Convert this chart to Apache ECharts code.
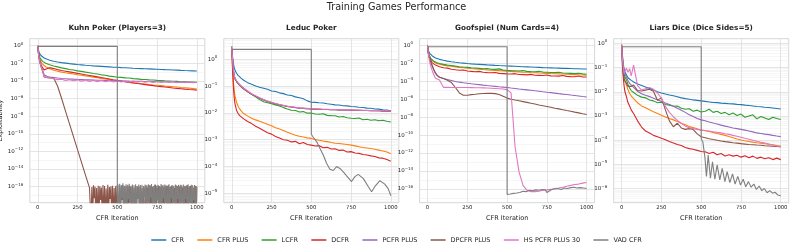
<!DOCTYPE html>
<html><head><meta charset="utf-8">
<script src="https://cdn.jsdelivr.net/npm/echarts@6/dist/echarts.min.js"></script>
<style>html,body{margin:0;padding:0;background:#fff}#c{width:793px;height:251px}</style>
</head><body><div id="c"></div><script>
// ---------- DATA ----------
const seriesNames = ['CFR','CFR PLUS','LCFR','DCFR','PCFR PLUS','DPCFR PLUS','HS PCFR PLUS 30','VAD CFR'];
const seriesColors = ['#1f77b4','#ff7f0e','#2ca02c','#d62728','#9467bd','#8c564b','#e377c2','#7f7f7f'];
const gameTitles = ['Kuhn Poker (Players=3)','Leduc Poker','Goofspiel (Num Cards=4)','Liars Dice (Dice Sides=5)'];
const xTicks = [0,250,500,750,1000];
const kuhnYTicks = [1e-16,1e-14,1e-12,1e-10,1e-8,1e-6,1e-4,1e-2,1];
const leducYTicks = [1e-5,1e-4,1e-3,1e-2,1e-1,1];
const goofYTicks = [1e-16,1e-14,1e-12,1e-10,1e-8,1e-6,1e-4,1e-2,1];
const liarsYTicks = [1e-6,1e-5,1e-4,1e-3,1e-2,1e-1,1];

const ITERS = [0,5,10,15,20,30,40,50,60,75,
 100,125,150,175,200,225,250,275,300,
 325,350,375,400,425,450,475,500,
 525,550,575,600,625,650,675,700,725,750,
 775,800,825,850,875,900,925,950,975,1000];

// Kuhn Poker
const kuhnCFR = [0.95,0.282,0.141,0.1,0.0759,0.0525,0.0398,0.0331,0.0282,0.0224,
 0.0174,0.0141,0.012,0.0105,9.1e-3,8.1e-3,7.2e-3,6.6e-3,6.0e-3,
 5.5e-3,5.1e-3,4.8e-3,4.5e-3,4.2e-3,3.9e-3,3.6e-3,3.5e-3,
 3.2e-3,3.1e-3,2.95e-3,2.75e-3,2.6e-3,2.5e-3,2.4e-3,2.3e-3,2.2e-3,2.1e-3,
 2.0e-3,1.9e-3,1.82e-3,1.74e-3,1.66e-3,1.58e-3,1.51e-3,1.45e-3,1.38e-3,1.32e-3];
const kuhnCFRPlus = [0.95,0.126,0.0447,0.0224,0.0141,7.9e-3,5.2e-3,4.0e-3,3.2e-3,2.4e-3,
 1.66e-3,1.26e-3,1.0e-3,8.3e-4,7.1e-4,6.0e-4,5.1e-4,4.4e-4,3.7e-4,
 3.2e-4,2.7e-4,2.3e-4,1.95e-4,1.66e-4,1.41e-4,1.2e-4,1.05e-4,
 9.1e-5,7.9e-5,7.1e-5,6.3e-5,5.5e-5,4.9e-5,4.4e-5,3.9e-5,3.5e-5,3.2e-5,
 2.9e-5,2.6e-5,2.4e-5,2.2e-5,2.0e-5,1.8e-5,1.66e-5,1.51e-5,1.35e-5,1.2e-5];
const kuhnLCFR = [0.95,0.178,0.0708,0.0398,0.0263,0.0166,0.012,0.01,8.3e-3,6.9e-3,
 5.0e-3,3.9e-3,3.0e-3,2.5e-3,2.0e-3,1.7e-3,1.38e-3,1.2e-3,1.0e-3,
 8.5e-4,6.9e-4,6.0e-4,4.9e-4,4.4e-4,3.5e-4,3.1e-4,2.6e-4,
 2.5e-4,2.2e-4,2.1e-4,1.82e-4,1.72e-4,1.51e-4,1.45e-4,1.32e-4,1.27e-4,1.15e-4,
 1.1e-4,1.0e-4,9.8e-5,9.1e-5,8.8e-5,8.1e-5,8.0e-5,7.4e-5,7.3e-5,6.8e-5];
const kuhnDCFR = [0.95,0.141,0.0398,0.0158,7.9e-3,3.2e-3,1.78e-3,1.41e-3,2.5e-3,3.2e-3,
 2.5e-3,1.9e-3,1.51e-3,1.26e-3,1.05e-3,8.7e-4,7.2e-4,6.0e-4,5.0e-4,
 4.2e-4,3.5e-4,2.9e-4,2.4e-4,2.0e-4,1.66e-4,1.38e-4,1.15e-4,
 9.5e-5,8.1e-5,6.9e-5,5.9e-5,5.0e-5,4.4e-5,3.8e-5,3.3e-5,2.9e-5,2.5e-5,
 2.24e-5,2.0e-5,1.78e-5,1.58e-5,1.41e-5,1.29e-5,1.17e-5,1.07e-5,9.8e-6,8.9e-6];
const kuhnPCFRPlus = [0.95,0.1,0.0251,0.01,5.0e-3,1.78e-3,5.0e-4,3.5e-4,3.2e-4,2.8e-4,
 2.4e-4,2.1e-4,1.9e-4,1.78e-4,1.66e-4,1.58e-4,1.51e-4,1.45e-4,1.38e-4,
 1.32e-4,1.26e-4,1.2e-4,1.17e-4,1.12e-4,1.1e-4,1.05e-4,1.02e-4,
 1.0e-4,9.8e-5,9.5e-5,9.3e-5,9.1e-5,8.9e-5,8.7e-5,8.5e-5,8.3e-5,8.1e-5,
 7.9e-5,7.8e-5,7.6e-5,7.4e-5,7.2e-5,7.1e-5,6.9e-5,6.8e-5,6.6e-5,6.5e-5];
const kuhnDPCFRIters = [0,5,10,15,20,30,40,50,60,75,100,110,125,150,175,200,225,250,275,300,325,
 330,335,340,345,350,355,360,365,370,375,380,385,390,395,400,405,410,415,420,425,
 430,435,440,445,450,455,460,465,470,475,480,485,490,495,500,505,510,515,520,525,
 530,535,540,545,550,555,560,565,570,575,580,585,590,595,600,605,610,615,620,625,
 630,635,640,645,650,655,660,665,670,675,680,685,690,695,700,705,710,715,720,725,
 730,735,740,745,750,755,760,765,770,775,780,785,790,795,800,805,810,815,820,825,
 830,835,840,845,850,855,860,865,870,875,880,885,890,895,900,905,910,915,920,925,
 930,935,940,945,950,955,960,965,970,975,980,985,990,995,1000];
const kuhnDPCFRPlus = [0.95,0.1,0.0251,0.01,4.5e-3,1.26e-3,2.8e-4,2.24e-4,2.24e-4,2.2e-4,2.1e-4,1.78e-4,2.5e-5,1.0e-6,3.5e-8,1.26e-9,4.5e-11,1.58e-12,5.6e-14,2.0e-15,7.9e-17,
 1.2e-16,1e-20,9e-17,1e-20,1.4e-16,5e-18,1e-16,1e-20,7e-17,1e-20,1.3e-16,1e-20,1.1e-16,3e-18,8e-17,1e-20,1.5e-16,1e-20,1.2e-16,1e-20,
 6e-17,1e-20,1.6e-16,1e-20,9e-17,4e-18,1.1e-16,1e-20,1.3e-16,1e-20,7e-17,1e-20,1.2e-16,1e-20,1.5e-16,1.1e-16,1e-20,8e-17,1e-20,1.1e-16,
 3e-18,1.4e-16,1e-20,9e-17,1e-20,1.2e-16,1e-20,6e-17,1e-20,1.3e-16,5e-18,1e-16,1e-20,1.5e-16,1e-20,8e-17,1e-20,1.2e-16,1e-20,1.1e-16,
 4e-18,9e-17,1e-20,1.4e-16,1e-20,7e-17,1e-20,1.2e-16,1.0e-16,1e-20,1.3e-16,1e-20,8e-17,2e-18,1.5e-16,1e-20,1.1e-16,1e-20,9e-17,1e-20,
 1.2e-16,1e-20,1.6e-16,1e-20,7e-17,4e-18,1.3e-16,1e-20,1.0e-16,1e-20,1.4e-16,1e-20,8e-17,1e-20,1.2e-16,3e-18,1.1e-16,1e-20,1.5e-16,1e-20,
 9e-17,1e-20,1.3e-16,1e-20,1.1e-16,5e-18,7e-17,1e-20,1.4e-16,1e-20,1.2e-16,1e-20,1.0e-16,1e-20,1.6e-16,4e-18,8e-17,1e-20,1.3e-16,1e-20,
 1.1e-16,1e-20,1.4e-16,1e-20,9e-17,3e-18,1.2e-16,1e-20,1.5e-16,1e-20,7e-17,1e-20,1.3e-16,1e-20,1.0e-16];
const kuhnHS = [0.95,0.1,0.0282,0.0112,5.0e-3,1.58e-3,3.2e-4,2.5e-4,2.4e-4,2.24e-4,
 1.78e-4,1.41e-4,1.58e-4,1.12e-4,1.41e-4,1.05e-4,1.32e-4,9.5e-5,1.26e-4,
 8.9e-5,1.2e-4,8.3e-5,1.12e-4,7.9e-5,1.07e-4,7.6e-5,1.0e-4,
 7.6e-5,1.0e-4,7.1e-5,9.5e-5,7.2e-5,9.3e-5,6.9e-5,8.9e-5,6.8e-5,8.7e-5,
 6.6e-5,8.5e-5,6.5e-5,8.3e-5,6.3e-5,7.9e-5,6.3e-5,7.8e-5,6.2e-5,7.1e-5];
const kuhnVADIters = [0,500,500,
 505,510,515,520,525,530,535,540,545,550,555,560,565,570,575,580,585,590,595,600,
 605,610,615,620,625,630,635,640,645,650,655,660,665,670,675,680,685,690,695,700,
 705,710,715,720,725,730,735,740,745,750,755,760,765,770,775,780,785,790,795,800,
 805,810,815,820,825,830,835,840,845,850,855,860,865,870,875,880,885,890,895,900,
 905,910,915,920,925,930,935,940,945,950,955,960,965,970,975,980,985,990,995,1000];
const kuhnVAD = [0.83,0.83,1e-20,
 1.8e-16,1e-20,2.2e-16,1e-20,1.5e-16,5e-18,2.5e-16,1e-20,1.3e-16,1e-20,1.9e-16,1e-20,1.6e-16,4e-18,2.1e-16,1e-20,1.2e-16,1e-20,1.7e-16,1e-20,
 1.4e-16,1e-20,1.9e-16,1e-20,1.1e-16,4e-18,1.8e-16,1e-20,1.3e-16,1e-20,1.6e-16,1e-20,1.2e-16,6e-18,1.7e-16,1e-20,1.4e-16,1e-20,1.9e-16,1e-20,
 1.5e-16,6e-18,2.0e-16,1e-20,1.1e-16,1e-20,1.8e-16,1e-20,1.3e-16,3e-18,1.6e-16,1e-20,1.2e-16,1e-20,2.0e-16,1e-20,1.4e-16,5e-18,1.7e-16,1e-20,
 1.6e-16,1e-20,1.2e-16,1e-20,1.9e-16,1e-20,1.0e-16,5e-18,1.5e-16,1e-20,1.3e-16,1e-20,1.8e-16,1e-20,1.1e-16,4e-18,1.6e-16,1e-20,1.4e-16,1e-20,
 1.3e-16,1e-20,1.7e-16,1e-20,1.1e-16,4e-18,1.4e-16,1e-20,1.9e-16,1e-20,1.2e-16,1e-20,1.6e-16,1e-20,1.0e-16,3e-18,1.5e-16,1e-20,1.2e-16,1e-20];

// Leduc Poker
const leducCFR = [2.4,1.26,0.708,0.501,0.398,0.302,0.251,0.219,0.195,0.166,
 0.135,0.117,0.102,0.0912,0.0832,0.0759,0.0661,0.0631,0.0562,
 0.0525,0.0468,0.0445,0.0398,0.0368,0.0339,0.0282,0.0251,
 0.0248,0.024,0.0236,0.0219,0.0212,0.02,0.0197,0.0186,0.0183,0.0174,
 0.0171,0.0162,0.016,0.0151,0.0149,0.0141,0.0139,0.0132,0.0127,0.012];
const leducCFRPlus = [2.4,0.501,0.158,0.0708,0.0447,0.0251,0.0178,0.0141,0.0117,9.5e-3,
 7.6e-3,6.3e-3,5.5e-3,4.9e-3,4.3e-3,3.8e-3,3.3e-3,2.8e-3,2.5e-3,
 2.2e-3,1.9e-3,1.66e-3,1.48e-3,1.35e-3,1.26e-3,1.17e-3,1.12e-3,
 1.02e-3,9.5e-4,8.9e-4,8.5e-4,7.9e-4,7.4e-4,7.2e-4,6.9e-4,6.6e-4,6.3e-4,
 5.9e-4,5.5e-4,5.1e-4,4.9e-4,4.7e-4,4.4e-4,4.1e-4,3.8e-4,3.5e-4,3.0e-4];
const leducLCFR = [2.4,1.0,0.398,0.251,0.191,0.151,0.126,0.112,0.1,0.0832,
 0.0631,0.0501,0.0398,0.0316,0.0263,0.024,0.0219,0.02,0.0182,
 0.0158,0.0141,0.0126,0.0123,0.0108,0.0112,0.0098,0.01,
 9.1e-3,8.9e-3,9.3e-3,8.1e-3,7.9e-3,7.8e-3,7.0e-3,7.4e-3,6.6e-3,6.3e-3,
 6.2e-3,6.5e-3,5.6e-3,5.8e-3,5.3e-3,5.6e-3,5.1e-3,5.3e-3,4.9e-3,4.6e-3];
const leducDCFR = [2.4,0.398,0.1,0.0398,0.0224,0.0126,9.5e-3,7.9e-3,6.9e-3,6.0e-3,
 4.8e-3,4.0e-3,3.2e-3,2.7e-3,2.2e-3,1.82e-3,1.62e-3,1.32e-3,1.15e-3,
 1.0e-3,9.5e-4,8.3e-4,8.7e-4,7.1e-4,7.9e-4,6.6e-4,6.3e-4,
 5.8e-4,6.0e-4,5.0e-4,5.2e-4,4.5e-4,4.6e-4,4.0e-4,4.1e-4,3.5e-4,3.6e-4,
 3.2e-4,3.1e-4,2.8e-4,2.7e-4,2.5e-4,2.35e-4,2.1e-4,2.05e-4,1.82e-4,1.58e-4];
const leducPCFRPlus = [2.4,1.0,0.398,0.251,0.191,0.151,0.126,0.11,0.0955,0.0794,
 0.0631,0.0501,0.0417,0.0355,0.0302,0.0269,0.024,0.0219,0.02,
 0.0186,0.0174,0.0166,0.0158,0.0151,0.0148,0.0145,0.0141,
 0.0138,0.0138,0.0135,0.0135,0.0132,0.0132,0.0129,0.0129,0.0126,0.0126,
 0.0126,0.0123,0.0123,0.0123,0.012,0.012,0.012,0.0117,0.0117,0.0117];
const leducDPCFRPlus = [3.1,1.0,0.4,0.25,0.19,0.148,0.123,0.107,0.093,0.078,
 0.062,0.05,0.042,0.036,0.031,0.0275,0.0245,0.022,0.0202,
 0.0188,0.0175,0.0166,0.0159,0.0152,0.0148,0.0144,0.0141,
 0.0139,0.0137,0.0135,0.0134,0.0132,0.0131,0.013,0.0129,0.0128,0.0127,
 0.0126,0.0125,0.0124,0.0123,0.0122,0.0121,0.012,0.0119,0.0118,0.0117];
const leducHS = [2.5,1.05,0.42,0.27,0.2,0.158,0.132,0.115,0.1,0.083,
 0.066,0.052,0.044,0.037,0.0315,0.028,0.025,0.0225,0.0205,
 0.0192,0.0178,0.017,0.0162,0.0155,0.015,0.0148,0.0144,
 0.0142,0.014,0.0138,0.0137,0.0135,0.0134,0.0132,0.0131,0.013,0.0129,
 0.0128,0.0127,0.0126,0.0125,0.0124,0.0123,0.0122,0.0121,0.012,0.0118];
const leducVADIters = [0,500,500,510,533,554,575,596,617,638,659,680,701,722,753,774,795,826,858,879,900,931,962,983,1000];
const leducVAD = [2.35,2.35,1.6e-3,1.29e-3,8.5e-4,4.8e-4,2.7e-4,1.32e-4,7.9e-5,7.1e-5,1.0e-4,8.5e-5,6.3e-5,4.5e-5,2.75e-5,4.2e-5,5.1e-5,3.6e-5,1.8e-5,1.15e-5,1.8e-5,2.95e-5,2.2e-5,1.5e-5,8.1e-6];

// Goofspiel
const goofCFR = [0.891,0.251,0.158,0.12,0.0955,0.0661,0.0501,0.0398,0.0339,0.0275,
 0.0214,0.0174,0.0148,0.0129,0.0115,0.0105,9.5e-3,8.7e-3,8.1e-3,
 7.6e-3,7.1e-3,6.6e-3,6.3e-3,5.9e-3,5.6e-3,5.4e-3,5.0e-3,
 4.8e-3,4.6e-3,4.4e-3,4.2e-3,4.0e-3,3.8e-3,3.6e-3,3.5e-3,3.3e-3,3.2e-3,
 3.1e-3,2.95e-3,2.9e-3,2.75e-3,2.7e-3,2.6e-3,2.5e-3,2.45e-3,2.35e-3,2.3e-3];
const goofCFRPlus = [0.891,0.141,0.0708,0.0447,0.0316,0.0191,0.0141,0.0112,9.5e-3,7.9e-3,
 6.3e-3,5.2e-3,4.6e-3,4.0e-3,3.5e-3,3.2e-3,2.9e-3,2.6e-3,2.4e-3,
 2.2e-3,2.0e-3,1.86e-3,1.74e-3,1.62e-3,1.51e-3,1.41e-3,1.32e-3,
 1.26e-3,1.17e-3,1.12e-3,1.05e-3,1.0e-3,9.3e-4,8.9e-4,8.3e-4,7.9e-4,7.6e-4,
 7.2e-4,6.9e-4,6.6e-4,6.3e-4,6.0e-4,5.8e-4,5.5e-4,5.2e-4,5.0e-4,4.8e-4];
const goofLCFR = [0.891,0.158,0.0794,0.0501,0.0355,0.0224,0.0166,0.0132,0.0112,9.3e-3,
 7.6e-3,6.3e-3,5.6e-3,4.8e-3,4.2e-3,3.8e-3,3.5e-3,3.2e-3,3.0e-3,
 2.75e-3,2.5e-3,2.6e-3,2.2e-3,2.1e-3,2.4e-3,1.74e-3,1.58e-3,
 1.51e-3,1.45e-3,1.38e-3,1.58e-3,1.26e-3,1.2e-3,1.15e-3,1.26e-3,1.05e-3,1.0e-3,
 9.5e-4,9.1e-4,1.0e-3,8.3e-4,7.9e-4,7.6e-4,7.2e-4,7.9e-4,6.6e-4,6.0e-4];
const goofDCFR = [0.891,0.126,0.0562,0.0316,0.02,0.0112,7.9e-3,6.3e-3,5.2e-3,4.2e-3,
 3.2e-3,2.9e-3,2.2e-3,1.9e-3,1.66e-3,1.8e-3,1.38e-3,1.26e-3,1.15e-3,
 1.25e-3,1.0e-3,9.1e-4,8.7e-4,9.5e-4,7.6e-4,7.1e-4,6.6e-4,
 6.3e-4,7.0e-4,5.6e-4,5.4e-4,5.1e-4,5.8e-4,4.7e-4,4.5e-4,4.3e-4,5.0e-4,
 4.0e-4,3.8e-4,3.7e-4,4.3e-4,3.5e-4,3.3e-4,3.2e-4,3.8e-4,3.0e-4,2.95e-4];
const goofPCFRPlus = [0.891,0.126,0.0501,0.0251,0.0141,5.0e-3,1.78e-3,7.9e-4,4.5e-4,2.8e-4,
 2.0e-4,1.51e-4,1.2e-4,9.5e-5,7.9e-5,6.8e-5,5.9e-5,5.2e-5,4.7e-5,
 4.2e-5,3.7e-5,3.3e-5,3.0e-5,2.7e-5,2.4e-5,2.2e-5,2.0e-5,
 1.74e-5,1.55e-5,1.38e-5,1.23e-5,1.1e-5,9.8e-6,8.7e-6,7.8e-6,6.8e-6,6.0e-6,
 5.4e-6,4.8e-6,4.2e-6,3.7e-6,3.3e-6,2.9e-6,2.6e-6,2.3e-6,2.0e-6,1.78e-6];
const goofDPCFRPlus = [0.891,0.126,0.0501,0.0251,0.0141,5.0e-3,1.78e-3,7.9e-4,4.5e-4,2.8e-4,
 2.0e-4,1.26e-4,7.1e-5,2.0e-5,5.0e-6,2.8e-6,2.8e-6,3.2e-6,3.5e-6,
 4.0e-6,4.3e-6,4.5e-6,4.5e-6,4.2e-6,3.3e-6,2.1e-6,1.32e-6,
 1.0e-6,8.1e-7,6.6e-7,5.4e-7,4.4e-7,3.5e-7,2.9e-7,2.3e-7,1.9e-7,1.55e-7,
 1.26e-7,1.0e-7,8.3e-8,6.8e-8,5.5e-8,4.5e-8,3.6e-8,3.0e-8,2.4e-8,1.95e-8];
const goofHS = [0.891,0.126,0.0316,0.0112,5.0e-3,1.41e-3,5.0e-4,2.2e-4,1.58e-4,1.38e-4,
 2.1e-5,2.1e-5,2.05e-5,2.05e-5,2.0e-5,2.0e-5,2.0e-5,1.95e-5,1.9e-5,
 1.86e-5,1.82e-5,1.74e-5,1.66e-5,1.58e-5,1.48e-5,1.35e-5,1.17e-5,
 5.0e-6,5.0e-12,7.9e-15,2.5e-16,7.1e-17,5.0e-17,5.0e-17,5.6e-17,7.1e-17,7.9e-17,
 8.9e-17,1.12e-16,1.26e-16,1.58e-16,2.0e-16,2.5e-16,3.2e-16,3.5e-16,4.5e-16,5.2e-16];
const goofVADIters = [0,500,500,510,520,530,540,550,560,570,580,590,600,620,640,660,680,700,720,740,750,760,780,800,820,840,860,880,900,920,940,960,980,1000];
const goofVAD = [0.708,0.708,2.5e-17,3.5e-17,2.8e-17,4.0e-17,3.2e-17,4.5e-17,3.5e-17,5.0e-17,4.0e-17,5.0e-17,5.6e-17,
 5.0e-17,7.1e-17,6.3e-17,7.9e-17,7.1e-17,8.9e-17,7.9e-17,4.0e-17,6.3e-17,
 8.9e-17,1.0e-16,1.12e-16,8.9e-17,1.26e-16,1.12e-16,1.41e-16,1.58e-16,1.26e-16,1.41e-16,1.26e-16,1.12e-16];

// Liars Dice
const liarsCFR = [0.794,0.316,0.148,0.0891,0.0661,0.0501,0.038,0.0331,0.0295,0.0251,
 0.0209,0.0182,0.0158,0.0138,0.0117,0.01,8.9e-3,8.1e-3,7.4e-3,
 6.8e-3,6.2e-3,5.6e-3,5.2e-3,4.9e-3,4.6e-3,4.4e-3,4.2e-3,
 4.0e-3,3.8e-3,3.6e-3,3.55e-3,3.4e-3,3.3e-3,3.2e-3,3.15e-3,3.0e-3,2.95e-3,
 2.8e-3,2.7e-3,2.6e-3,2.45e-3,2.4e-3,2.3e-3,2.25e-3,2.15e-3,2.05e-3,1.95e-3];
const liarsCFRPlus = [0.794,0.2,0.0708,0.0398,0.0282,0.0191,0.012,8.5e-3,6.8e-3,5.2e-3,
 3.5e-3,2.6e-3,2.2e-3,1.82e-3,1.48e-3,1.26e-3,1.07e-3,9.1e-4,7.9e-4,
 6.9e-4,5.9e-4,5.0e-4,4.3e-4,3.7e-4,3.3e-4,2.95e-4,2.6e-4,
 2.45e-4,2.3e-4,2.1e-4,1.9e-4,1.74e-4,1.58e-4,1.41e-4,1.26e-4,1.12e-4,1.02e-4,
 9.5e-5,8.9e-5,8.3e-5,7.9e-5,7.6e-5,7.1e-5,6.8e-5,6.5e-5,6.0e-5,5.8e-5];
const liarsLCFR = [0.794,0.251,0.1,0.0562,0.0417,0.0309,0.02,0.0141,0.0112,9.3e-3,
 7.1e-3,6.0e-3,5.6e-3,4.6e-3,4.2e-3,3.5e-3,3.7e-3,3.0e-3,2.8e-3,
 2.5e-3,2.6e-3,2.1e-3,1.9e-3,2.0e-3,1.58e-3,1.74e-3,1.45e-3,
 1.58e-3,1.9e-3,1.41e-3,1.58e-3,1.26e-3,1.41e-3,1.12e-3,1.32e-3,1.05e-3,1.2e-3,
 8.9e-4,1.0e-3,1.12e-3,7.6e-4,9.5e-4,8.3e-4,7.1e-4,8.9e-4,7.9e-4,7.2e-4];
const liarsDCFR = [0.794,0.126,0.0398,0.0178,0.0105,6.3e-3,3.5e-3,2.6e-3,1.78e-3,1.26e-3,
 6.3e-4,3.5e-4,2.4e-4,2.0e-4,1.58e-4,1.38e-4,1.2e-4,1.05e-4,8.9e-5,
 7.6e-5,6.6e-5,6.0e-5,5.0e-5,4.5e-5,4.2e-5,3.8e-5,3.4e-5,
 3.3e-5,2.8e-5,3.2e-5,2.5e-5,2.8e-5,2.24e-5,2.5e-5,2.2e-5,2.4e-5,2.0e-5,
 2.3e-5,1.9e-5,2.2e-5,1.78e-5,2.0e-5,1.7e-5,1.9e-5,1.58e-5,1.82e-5,1.58e-5];
const liarsPCFRPlus = [0.794,0.251,0.112,0.0708,0.0575,0.0398,0.0282,0.0224,0.0191,0.0151,
 0.0105,8.3e-3,7.2e-3,6.3e-3,5.4e-3,4.7e-3,4.0e-3,3.4e-3,2.95e-3,
 2.5e-3,2.1e-3,1.74e-3,1.41e-3,1.12e-3,9.5e-4,7.9e-4,6.9e-4,
 6.3e-4,5.6e-4,5.1e-4,4.7e-4,4.2e-4,3.8e-4,3.5e-4,3.2e-4,3.0e-4,2.8e-4,
 2.6e-4,2.4e-4,2.2e-4,2.0e-4,1.9e-4,1.78e-4,1.7e-4,1.58e-4,1.48e-4,1.41e-4];
const liarsDPCFRPlus = [0.891,0.158,0.0575,0.0355,0.0282,0.0224,0.0166,0.0141,0.0166,0.0191,
 0.0112,0.0107,0.0117,0.0126,0.0105,4.5e-3,5.6e-3,1.78e-3,6.3e-4,
 3.6e-4,5.0e-4,3.2e-4,2.8e-4,3.0e-4,2.75e-4,1.82e-4,1.38e-4,
 1.26e-4,1.15e-4,1.07e-4,1.0e-4,9.3e-5,8.7e-5,8.3e-5,7.9e-5,7.6e-5,7.2e-5,
 6.9e-5,6.6e-5,6.5e-5,6.3e-5,6.2e-5,5.9e-5,5.8e-5,5.6e-5,5.5e-5,5.4e-5];
const liarsHS = [0.891,0.2,0.11,0.0562,0.0501,0.0933,0.0631,0.0891,0.0447,0.126,
 0.0178,0.0117,0.0132,0.0151,0.0126,8.9e-3,5.4e-3,2.5e-3,1.41e-3,
 9.3e-4,6.6e-4,5.0e-4,3.8e-4,3.3e-4,3.0e-4,2.8e-4,2.6e-4,
 2.5e-4,2.4e-4,2.24e-4,2.1e-4,2.0e-4,1.86e-4,1.74e-4,1.58e-4,1.45e-4,1.32e-4,
 1.2e-4,1.1e-4,1.0e-4,9.1e-5,8.3e-5,7.6e-5,6.9e-5,6.3e-5,5.8e-5,5.2e-5];
const liarsVADIters = [0,500,500,510,523,533,544,558,571,586,600,617,632,649,663,680,697,713,730,747,764,780,797,814,831,847,864,881,897,914,931,948,964,981,1000];
const liarsVAD = [0.724,0.724,1.12e-4,8.7e-5,2.1e-5,3.2e-6,2.45e-5,2.7e-6,1.29e-5,2.45e-6,9.5e-6,2.3e-6,6.9e-6,1.95e-6,5.0e-6,1.78e-6,4.1e-6,1.55e-6,3.2e-6,1.41e-6,2.45e-6,1.2e-6,1.95e-6,1.15e-6,1.55e-6,9.3e-7,1.29e-6,8.3e-7,1.02e-6,6.8e-7,8.3e-7,6.5e-7,7.1e-7,5.5e-7,5.1e-7];

// ---------- LAYOUT / STYLE ----------
const FONT = 'DejaVu Sans';
const TXT = '#262626';
const GRID_TOP = 38.7, GRID_H = 164, GRID_W = 175;
const panels = [
  { title: gameTitles[0], left: 29.8, yExp: [-17.82, 0.79], yTicks: kuhnYTicks, minor: 'odd',
    lines: [[ITERS,kuhnCFR],[ITERS,kuhnCFRPlus],[ITERS,kuhnLCFR],[ITERS,kuhnDCFR],[ITERS,kuhnPCFRPlus],[kuhnDPCFRIters,kuhnDPCFRPlus],[ITERS,kuhnHS],[kuhnVADIters,kuhnVAD]] },
  { title: gameTitles[1], left: 223.8, yExp: [-5.35, 0.77], yTicks: leducYTicks, minor: 'subs',
    lines: [[ITERS,leducCFR],[ITERS,leducCFRPlus],[ITERS,leducLCFR],[ITERS,leducDCFR],[ITERS,leducPCFRPlus],[ITERS,leducDPCFRPlus],[ITERS,leducHS],[leducVADIters,leducVAD]] },
  { title: gameTitles[2], left: 419.6, yExp: [-17.53, 0.74], yTicks: goofYTicks, minor: 'odd',
    lines: [[ITERS,goofCFR],[ITERS,goofCFRPlus],[ITERS,goofLCFR],[ITERS,goofDCFR],[ITERS,goofPCFRPlus],[ITERS,goofDPCFRPlus],[ITERS,goofHS],[goofVADIters,goofVAD]] },
  { title: gameTitles[3], left: 613.7, yExp: [-6.58, 0.19], yTicks: liarsYTicks, minor: 'subs',
    lines: [[ITERS,liarsCFR],[ITERS,liarsCFRPlus],[ITERS,liarsLCFR],[ITERS,liarsDCFR],[ITERS,liarsPCFRPlus],[ITERS,liarsDPCFRPlus],[ITERS,liarsHS],[liarsVADIters,liarsVAD]] }
];

function minorTicks(p) {
  const out = [];
  const lo = p.yExp[0], hi = p.yExp[1];
  for (let n = Math.floor(lo) - 1; n <= Math.ceil(hi); n++) {
    if (p.minor === 'odd') {
      if (Math.abs(n) % 2 === 1) { const v = Math.pow(10, n); if (n > lo && n < hi) out.push(v); }
    } else {
      for (let k = 2; k <= 9; k++) { const v = k * Math.pow(10, n); const e = Math.log10(v); if (e > lo && e < hi) out.push(v); }
    }
  }
  return out;
}
function yLabel(v) {
  const e = Math.round(Math.log10(v));
  return '{b|10}{s|' + (e < 0 ? '\u2212' : '') + Math.abs(e) + '}';
}

const grids = [], xAxes = [], yAxes = [], series = [];
const titles = [{ text: 'Training Games Performance', left: 'center', top: 2.5, padding: 0,
  textStyle: { fontFamily: FONT, fontSize: 9.7, fontWeight: 'normal', color: TXT } }];

panels.forEach((p, i) => {
  grids.push({ left: p.left, top: GRID_TOP, width: GRID_W, height: GRID_H, show: true,
    borderColor: '#cccccc', borderWidth: 0.8, backgroundColor: 'transparent', containLabel: false, outerBoundsMode: 'none' });
  titles.push({ text: p.title, left: p.left + GRID_W / 2, textAlign: 'center', top: 24.8, padding: 0,
    textStyle: { fontFamily: FONT, fontSize: 7.3, fontWeight: 'bold', color: TXT } });
  xAxes.push({ type: 'value', gridIndex: i, min: -50, max: 1050,
    name: 'CFR Iteration', nameLocation: 'middle', nameGap: 9,
    nameTextStyle: { fontFamily: FONT, fontSize: 6.5, color: TXT },
    axisLine: { show: false }, axisTick: { show: false, customValues: xTicks },
    axisLabel: { customValues: xTicks, formatter: v => String(v), fontFamily: FONT, fontSize: 5.3, color: TXT, margin: 2.5 },
    splitLine: { show: true, lineStyle: { color: '#dedede', width: 0.8 } } });
  const ymin = Math.pow(10, p.yExp[0]), ymax = Math.pow(10, p.yExp[1]);
  yAxes.push({ type: 'log', logBase: 10, gridIndex: i, min: ymin, max: ymax, position: 'left',
    axisLine: { show: false }, axisTick: { show: false, customValues: minorTicks(p) },
    axisLabel: { show: false }, splitLine: { show: true, lineStyle: { color: '#f0f0f0', width: 0.6 } } });
  yAxes.push({ type: 'log', logBase: 10, gridIndex: i, min: ymin, max: ymax, position: 'left',
    name: i === 0 ? 'Exploitability' : '', nameLocation: 'middle', nameGap: 23,
    nameTextStyle: { fontFamily: FONT, fontSize: 6.5, color: TXT },
    axisLine: { show: false }, axisTick: { show: false, customValues: p.yTicks },
    axisLabel: { customValues: p.yTicks, formatter: yLabel, margin: 6.5,
      rich: { b: { fontFamily: FONT, fontSize: 5.5, color: TXT, lineHeight: 8 },
              s: { fontFamily: FONT, fontSize: 4, color: TXT, lineHeight: 4.5, verticalAlign: 'top' } } },
    splitLine: { show: true, lineStyle: { color: '#dedede', width: 0.8 } } });
  p.lines.forEach((ln, k) => {
    const xs = ln[0], ys = ln[1];
    series.push({ type: 'line', name: seriesNames[k], xAxisIndex: i, yAxisIndex: 2 * i + 1,
      data: xs.map((x, j) => [x, ys[j]]), showSymbol: false, symbol: 'none', clip: true,
      color: seriesColors[k], lineStyle: { width: 1.1, color: seriesColors[k] },
      emphasis: { disabled: true }, animation: false });
  });
});

const chart = echarts.init(document.getElementById('c'), null, { renderer: 'canvas' });
chart.setOption({
  animation: false,
  backgroundColor: '#ffffff',
  textStyle: { fontFamily: FONT },
  title: titles,
  grid: grids, xAxis: xAxes, yAxis: yAxes, series: series,
  legend: { data: seriesNames, left: 'center', top: 236.5, icon: 'rect', itemWidth: 15, itemHeight: 1.5,
    itemGap: 13.3, padding: 0, textStyle: { fontFamily: FONT, fontSize: 6.5, color: TXT } },
  tooltip: { show: false }
});
</script></body></html>
